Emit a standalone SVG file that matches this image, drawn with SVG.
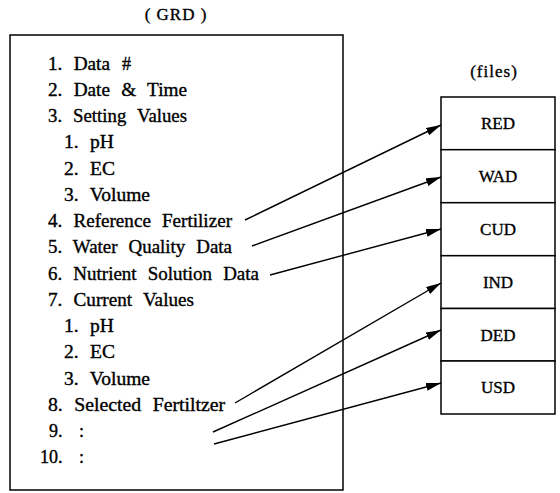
<svg xmlns="http://www.w3.org/2000/svg" width="560" height="493" viewBox="0 0 560 493">
<style>
text{font-family:"Liberation Serif","Times New Roman",serif;fill:#000;stroke:#000;stroke-width:0.35}
.t{font-size:18px;word-spacing:6px}
.h{font-size:17px;text-anchor:middle;letter-spacing:1px}
.f{font-size:17px;text-anchor:middle}
.box{fill:#fff;stroke:#000;stroke-width:1.5}
.c{stroke:#000;stroke-width:1.4;fill:none;marker-end:url(#ah)}
</style>
<defs>
<marker id="ah" markerUnits="userSpaceOnUse" markerWidth="16" markerHeight="10" refX="15" refY="4" orient="auto">
<path d="M0,0 L15,4 L0,8 Z" fill="#000"/>
</marker>
</defs>
<g id="grd">
<text class="h" x="176" y="20">( GRD )</text>
<rect class="box" x="10" y="35" width="333" height="455"/>
<text class="t" x="48" y="69.5" textLength="62" lengthAdjust="spacingAndGlyphs">1. Data</text>
<text class="t" x="122" y="69.5">#</text>
<text class="t" x="48" y="95.8" textLength="139" lengthAdjust="spacingAndGlyphs">2. Date &amp; Time</text>
<text class="t" x="48" y="122" textLength="139" lengthAdjust="spacingAndGlyphs">3. Setting Values</text>
<text class="t" x="64" y="148.3" textLength="50" lengthAdjust="spacingAndGlyphs">1. pH</text>
<text class="t" x="64" y="174.5" textLength="51" lengthAdjust="spacingAndGlyphs">2. EC</text>
<text class="t" x="64" y="200.8" textLength="86" lengthAdjust="spacingAndGlyphs">3. Volume</text>
<text class="t" x="48" y="227" textLength="184" lengthAdjust="spacingAndGlyphs">4. Reference Fertilizer</text>
<text class="t" x="48" y="253.3" textLength="184" lengthAdjust="spacingAndGlyphs">5. Water Quality Data</text>
<text class="t" x="48" y="279.5" textLength="211" lengthAdjust="spacingAndGlyphs">6. Nutrient Solution Data</text>
<text class="t" x="48" y="305.8" textLength="146" lengthAdjust="spacingAndGlyphs">7. Current Values</text>
<text class="t" x="64" y="332" textLength="50" lengthAdjust="spacingAndGlyphs">1. pH</text>
<text class="t" x="64" y="358.3" textLength="51" lengthAdjust="spacingAndGlyphs">2. EC</text>
<text class="t" x="64" y="384.5" textLength="86" lengthAdjust="spacingAndGlyphs">3. Volume</text>
<text class="t" x="48" y="410.8" textLength="177" lengthAdjust="spacingAndGlyphs">8. Selected Fertiltzer</text>
<text class="t" x="49" y="437">9.</text>
<text class="t" x="79" y="437">:</text>
<text class="t" x="40" y="463.3">10.</text>
<text class="t" x="79" y="463.3">:</text>
</g>
<text class="h" x="494" y="77">(files)</text>
<g id="RED"><rect class="box" x="441" y="97" width="114" height="52.7"/><text class="f" x="498" y="129">RED</text></g>
<g id="WAD"><rect class="box" x="441" y="149.7" width="114" height="53"/><text class="f" x="498" y="182">WAD</text></g>
<g id="CUD"><rect class="box" x="441" y="202.7" width="114" height="53"/><text class="f" x="498" y="235">CUD</text></g>
<g id="IND"><rect class="box" x="441" y="255.7" width="114" height="52.8"/><text class="f" x="498" y="288">IND</text></g>
<g id="DED"><rect class="box" x="441" y="308.5" width="114" height="52.5"/><text class="f" x="498" y="341">DED</text></g>
<g id="USD"><rect class="box" x="441" y="361" width="114" height="53"/><text class="f" x="498" y="393">USD</text></g>
<g id="connectors">
<line class="c" x1="245" y1="220" x2="441" y2="125"/>
<line class="c" x1="252" y1="246" x2="441" y2="177"/>
<line class="c" x1="270" y1="275" x2="441" y2="229"/>
<line class="c" x1="235" y1="403" x2="441" y2="283"/>
<line class="c" x1="213" y1="432" x2="441" y2="330"/>
<line class="c" x1="214" y1="444" x2="441" y2="383"/>
</g>
</svg>
